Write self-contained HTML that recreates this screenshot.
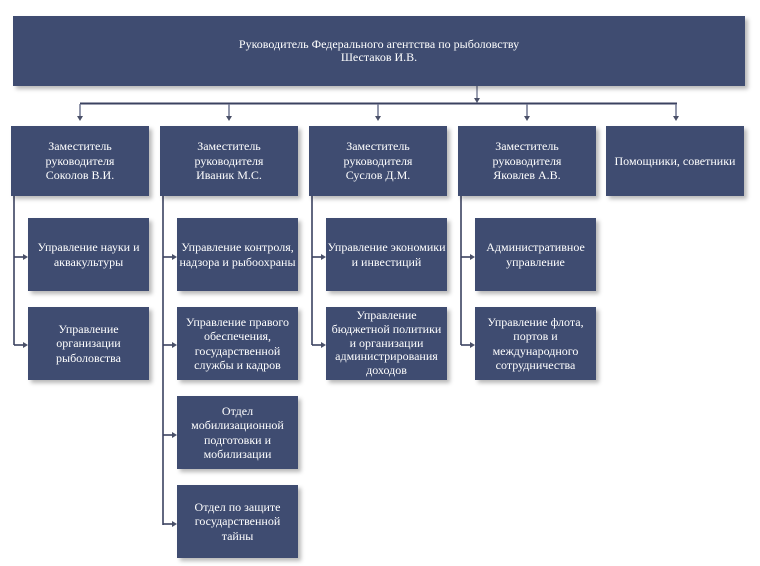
<!DOCTYPE html>
<html><head><meta charset="utf-8"><style>
html,body{margin:0;padding:0;background:#fff;}
body{width:760px;height:566px;position:relative;overflow:hidden;font-family:"Liberation Serif","Noto Serif CJK SC",serif;}
.b{position:absolute;background:#3f4c71;color:#fff;display:flex;align-items:center;justify-content:center;text-align:center;font-size:12px;line-height:14.5px;box-shadow:3px 3px 4px rgba(0,0,0,0.28);white-space:nowrap;}
.l2{top:126px;width:138px;height:70px;}
.l3{width:121px;height:73px;}
svg{position:absolute;left:0;top:0;}
</style></head><body>
<svg width="760" height="566">
<g fill="none">
<line x1="477" y1="86" x2="477" y2="99" stroke="#7e849b" stroke-width="1.5"/>
<line x1="80" y1="103.5" x2="677" y2="103.5" stroke="#3b4260" stroke-width="2"/>
<g stroke="#6f7590" stroke-width="1.5">
<line x1="80" y1="104" x2="80" y2="117"/>
<line x1="229" y1="104" x2="229" y2="117"/>
<line x1="378" y1="104" x2="378" y2="117"/>
<line x1="527" y1="104" x2="527" y2="117"/>
<line x1="676" y1="104" x2="676" y2="117"/>
</g>
<g stroke="#3b4260" stroke-width="1.6">
<line x1="14" y1="196" x2="14" y2="345"/>
<line x1="163" y1="196" x2="163" y2="525"/>
<line x1="312" y1="196" x2="312" y2="345"/>
<line x1="461" y1="196" x2="461" y2="345"/>
<line x1="14" y1="257" x2="24" y2="257"/>
<line x1="14" y1="345" x2="24" y2="345"/>
<line x1="163" y1="257" x2="173" y2="257"/>
<line x1="163" y1="345" x2="173" y2="345"/>
<line x1="163" y1="435" x2="173" y2="435"/>
<line x1="163" y1="524" x2="173" y2="524"/>
<line x1="312" y1="257" x2="322" y2="257"/>
<line x1="312" y1="345" x2="322" y2="345"/>
<line x1="461" y1="257" x2="471" y2="257"/>
<line x1="461" y1="345" x2="471" y2="345"/>
</g>
</g>
<g fill="#4a5068">
<polygon points="474,98 480,98 477,103"/>
<polygon points="77,116 83,116 80,121"/>
<polygon points="226,116 232,116 229,121"/>
<polygon points="375,116 381,116 378,121"/>
<polygon points="524,116 530,116 527,121"/>
<polygon points="673,116 679,116 676,121"/>
<polygon points="23,254 23,260 28,257"/>
<polygon points="23,342 23,348 28,345"/>
<polygon points="172,254 172,260 177,257"/>
<polygon points="172,342 172,348 177,345"/>
<polygon points="172,432 172,438 177,435"/>
<polygon points="172,521 172,527 177,524"/>
<polygon points="321,254 321,260 326,257"/>
<polygon points="321,342 321,348 326,345"/>
<polygon points="470,254 470,260 475,257"/>
<polygon points="470,342 470,348 475,345"/>
</g>
</svg>

<div class="b" style="left:13px;top:16px;width:732px;height:70px;line-height:13.5px;">Руководитель Федерального агентства по рыболовству<br>Шестаков И.В.</div>

<div class="b l2" style="left:11px;">Заместитель<br>руководителя<br>Соколов В.И.</div>
<div class="b l2" style="left:160px;">Заместитель<br>руководителя<br>Иваник М.С.</div>
<div class="b l2" style="left:309px;">Заместитель<br>руководителя<br>Суслов Д.М.</div>
<div class="b l2" style="left:458px;">Заместитель<br>руководителя<br>Яковлев А.В.</div>
<div class="b l2" style="left:606px;">Помощники, советники</div>

<div class="b l3" style="left:28px;top:218px;">Управление науки и<br>аквакультуры</div>
<div class="b l3" style="left:28px;top:307px;">Управление<br>организации<br>рыболовства</div>

<div class="b l3" style="left:177px;top:218px;">Управление контроля,<br>надзора и рыбоохраны</div>
<div class="b l3" style="left:177px;top:307px;">Управление правого<br>обеспечения,<br>государственной<br>службы и кадров</div>
<div class="b l3" style="left:177px;top:396px;">Отдел<br>мобилизационной<br>подготовки и<br>мобилизации</div>
<div class="b l3" style="left:177px;top:485px;">Отдел по защите<br>государственной<br>тайны</div>

<div class="b l3" style="left:326px;top:218px;">Управление экономики<br>и инвестиций</div>
<div class="b l3" style="left:326px;top:307px;line-height:13.7px;">Управление<br>бюджетной политики<br>и организации<br>администрирования<br>доходов</div>

<div class="b l3" style="left:475px;top:218px;">Административное<br>управление</div>
<div class="b l3" style="left:475px;top:307px;">Управление флота,<br>портов и<br>международного<br>сотрудничества</div>
</body></html>
